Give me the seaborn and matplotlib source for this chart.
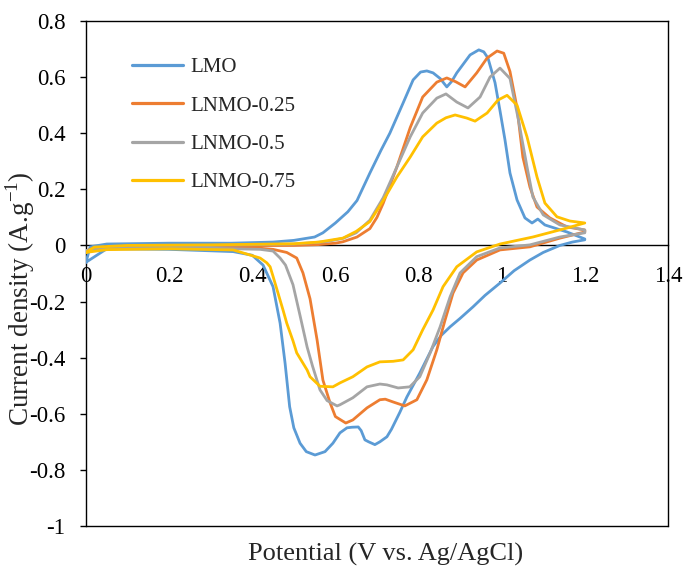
import numpy as np
import pandas as pd
import matplotlib
matplotlib.use('Agg')
import matplotlib.pyplot as plt
import seaborn as sns

# ── Data (V vs Ag/AgCl, A/g) ────────────────────────────────────
# anodic sweep 0 -> 1.2 V, cathodic sweep 1.2 -> 0 V
LMO_ANO_X = [0.0, 0.01, 0.05, 0.2, 0.35, 0.45, 0.5, 0.55, 0.57, 0.6, 0.63, 0.652, 0.683,
             0.71, 0.731, 0.763, 0.787, 0.805, 0.82, 0.835, 0.852, 0.868, 0.88, 0.892, 0.924, 0.945,
             0.957, 0.967, 0.984, 0.996, 1.008, 1.02, 1.037, 1.056, 1.073, 1.087, 1.104, 1.157, 1.2]
LMO_ANO_Y = [-0.06, -0.005, 0.005, 0.008, 0.008, 0.012, 0.018, 0.03, 0.045, 0.08, 0.12, 0.16, 0.258,
             0.34, 0.40, 0.508, 0.59, 0.618, 0.622, 0.615, 0.595, 0.565, 0.585, 0.615, 0.679, 0.697,
             0.69, 0.668, 0.58, 0.48, 0.376, 0.258, 0.162, 0.098, 0.08, 0.094, 0.073, 0.048, 0.023]
LMO_CAT_X = [1.2, 1.17, 1.14, 1.1, 1.068, 1.03, 0.996, 0.96, 0.931, 0.9, 0.876, 0.855, 0.835,
             0.803, 0.772, 0.755, 0.735, 0.724, 0.707, 0.695, 0.68, 0.671, 0.662, 0.655, 0.64,
             0.628, 0.611, 0.594, 0.575, 0.551, 0.53, 0.515, 0.5, 0.49, 0.479, 0.467, 0.45,
             0.426, 0.4, 0.354, 0.2, 0.05, 0.0]
LMO_CAT_Y = [0.02, 0.012, 0.0, -0.025, -0.052, -0.09, -0.134, -0.178, -0.219, -0.26, -0.29, -0.32, -0.36,
             -0.455, -0.54, -0.595, -0.655, -0.682, -0.70, -0.71, -0.70, -0.693, -0.66, -0.647, -0.648,
             -0.65, -0.668, -0.705, -0.735, -0.747, -0.735, -0.705, -0.65, -0.575, -0.42, -0.277, -0.147,
             -0.07, -0.035, -0.022, -0.014, -0.012, -0.06]

N25_ANO_X = [0.0, 0.02, 0.1, 0.3, 0.5, 0.56, 0.6, 0.618, 0.652, 0.683, 0.70, 0.715, 0.748, 0.78,
             0.81, 0.844, 0.868, 0.89, 0.912, 0.94, 0.965, 0.989, 1.005, 1.02, 1.037, 1.051,
             1.068, 1.085, 1.116, 1.157, 1.2]
N25_ANO_Y = [-0.02, -0.008, -0.003, -0.001, 0.0, 0.003, 0.008, 0.013, 0.03, 0.06, 0.10, 0.15, 0.28, 0.42,
             0.529, 0.582, 0.597, 0.583, 0.565, 0.615, 0.668, 0.693, 0.685, 0.62, 0.49, 0.315,
             0.208, 0.137, 0.098, 0.066, 0.055]
N25_CAT_X = [1.2, 1.14, 1.068, 0.996, 0.94, 0.907, 0.883, 0.864, 0.844, 0.82, 0.796, 0.767, 0.739,
             0.72, 0.707, 0.676, 0.642, 0.625, 0.6, 0.587, 0.57, 0.556, 0.539, 0.522, 0.507,
             0.483, 0.45, 0.419, 0.3, 0.1, 0.02, 0.0]
N25_CAT_Y = [0.048, 0.026, -0.005, -0.016, -0.052, -0.098, -0.17, -0.265, -0.372, -0.479, -0.55, -0.572, -0.558,
             -0.548, -0.55, -0.579, -0.622, -0.633, -0.61, -0.56, -0.48, -0.337, -0.19, -0.098, -0.045,
             -0.025, -0.014, -0.01, -0.008, -0.01, -0.015, -0.02]

N50_ANO_X = [0.0, 0.02, 0.1, 0.3, 0.5, 0.539, 0.58, 0.618, 0.65, 0.683, 0.715, 0.748, 0.78, 0.81,
             0.844, 0.866, 0.892, 0.919, 0.948, 0.972, 0.996, 1.02, 1.04, 1.061, 1.075, 1.1, 1.14, 1.2]
N50_ANO_Y = [-0.02, -0.008, -0.003, 0.0, 0.005, 0.009, 0.014, 0.025, 0.045, 0.09, 0.17, 0.28, 0.387, 0.472,
             0.525, 0.54, 0.511, 0.49, 0.529, 0.60, 0.632, 0.595, 0.45, 0.28, 0.173, 0.109, 0.073, 0.055]
N50_CAT_X = [1.2, 1.14, 1.068, 0.996, 0.94, 0.9, 0.876, 0.852, 0.828, 0.803, 0.779, 0.751, 0.724,
             0.707, 0.676, 0.642, 0.611, 0.604, 0.58, 0.563, 0.545, 0.532, 0.515, 0.498, 0.48,
             0.467, 0.45, 0.419, 0.3, 0.1, 0.02, 0.0]
N50_CAT_Y = [0.045, 0.03, 0.002, -0.009, -0.04, -0.098, -0.183, -0.29, -0.383, -0.468, -0.504, -0.508, -0.497,
             -0.494, -0.504, -0.543, -0.568, -0.572, -0.553, -0.515, -0.43, -0.362, -0.25, -0.14, -0.07,
             -0.045, -0.02, -0.014, -0.01, -0.01, -0.015, -0.02]

N75_ANO_X = [0.0, 0.02, 0.1, 0.3, 0.5, 0.56, 0.618, 0.65, 0.683, 0.715, 0.748, 0.78, 0.81, 0.844,
             0.866, 0.888, 0.916, 0.936, 0.965, 0.991, 1.013, 1.037, 1.061, 1.085, 1.104, 1.133, 1.164, 1.2]
N75_ANO_Y = [-0.025, -0.006, 0.0, 0.002, 0.006, 0.012, 0.026, 0.05, 0.085, 0.16, 0.244, 0.315, 0.387, 0.436,
             0.455, 0.465, 0.454, 0.443, 0.472, 0.518, 0.535, 0.50, 0.387, 0.244, 0.151, 0.102, 0.087, 0.08]
N75_CAT_X = [1.2, 1.157, 1.075, 0.996, 0.94, 0.892, 0.859, 0.835, 0.81, 0.787, 0.763, 0.739, 0.707,
             0.676, 0.642, 0.611, 0.594, 0.563, 0.539, 0.532, 0.507, 0.498, 0.483, 0.474, 0.462,
             0.45, 0.443, 0.435, 0.419, 0.354, 0.2, 0.05, 0.0]
N75_CAT_Y = [0.08, 0.062, 0.03, 0.005, -0.023, -0.076, -0.147, -0.23, -0.301, -0.372, -0.408, -0.413, -0.415,
             -0.433, -0.468, -0.49, -0.504, -0.502, -0.468, -0.444, -0.383, -0.34, -0.277, -0.23, -0.17,
             -0.11, -0.076, -0.062, -0.045, -0.016, -0.012, -0.015, -0.025]

SAMPLES = ['LMO', 'LNMO-0.25', 'LNMO-0.5', 'LNMO-0.75']
COLORS  = ['#5B9BD5', '#ED7D31', '#A5A5A5', '#FFC000']
XTICKS  = [0, 0.2, 0.4, 0.6, 0.8, 1.0, 1.2, 1.4]
YTICKS  = [-1.0, -0.8, -0.6, -0.4, -0.2, 0.0, 0.2, 0.4, 0.6, 0.8]

curves = {
    'LMO':       (LMO_ANO_X + LMO_CAT_X, LMO_ANO_Y + LMO_CAT_Y),
    'LNMO-0.25': (N25_ANO_X + N25_CAT_X, N25_ANO_Y + N25_CAT_Y),
    'LNMO-0.5':  (N50_ANO_X + N50_CAT_X, N50_ANO_Y + N50_CAT_Y),
    'LNMO-0.75': (N75_ANO_X + N75_CAT_X, N75_ANO_Y + N75_CAT_Y),
}
df = pd.concat([pd.DataFrame({'potential': xs, 'current': ys, 'sample': name})
                for name, (xs, ys) in curves.items()], ignore_index=True)

# ── Style ───────────────────────────────────────────────────────
sns.set_style('white')
plt.rcParams['font.family'] = ['Liberation Serif', 'DejaVu Serif']
plt.rcParams['mathtext.fontset'] = 'custom'
plt.rcParams['mathtext.rm'] = 'Liberation Serif'
plt.rcParams['axes.unicode_minus'] = False

fig = plt.figure(figsize=(6.85, 5.7), dpi=100)
ax = fig.add_axes([0.1255, 0.0772, 0.8496, 0.886])

sns.lineplot(data=df, x='potential', y='current', hue='sample', hue_order=SAMPLES,
             palette=COLORS, sort=False, estimator=None, linewidth=2.0, zorder=3, ax=ax)

ax.set_xlim(0, 1.4)
ax.set_ylim(-1, 0.8)
ax.set_xticks(XTICKS)
ax.set_yticks(YTICKS)
ax.set_xticklabels([f'{v:g}' for v in XTICKS])
ax.set_yticklabels([f'{v:g}' for v in YTICKS])

for s in ax.spines.values():
    s.set_color('black')
    s.set_linewidth(1.0)
ax.spines['bottom'].set_position(('data', 0))
ax.axhline(-1, color='black', lw=1.0, clip_on=False)

ax.tick_params(axis='x', length=0, pad=15, labelsize=16.5, colors='black')
ax.tick_params(axis='y', length=4.3, width=1.0, direction='out', pad=10.5,
               labelsize=16.5, colors='black', left=True)

ax.set_xlabel('Potential (V vs. Ag/AgCl)', fontsize=19)
ax.set_ylabel(r'Current density (A.g$^{\mathregular{-1}}$)', fontsize=19.5)
ax.xaxis.set_label_coords(0.514, -0.034)
ax.yaxis.set_label_coords(-0.084, 0.451)

old = ax.get_legend()
handles = old.legend_handles
labels = [t.get_text() for t in old.get_texts()]
for h in handles:
    h.set_linewidth(2.3)
ax.legend(handles, labels, loc='upper left', bbox_to_anchor=(0.079, 0.927),
          frameon=False, fontsize=15, handlelength=2.45, handletextpad=0.34,
          labelspacing=0.9, borderpad=0, borderaxespad=0)

fig.savefig('out.png', dpi=100)
